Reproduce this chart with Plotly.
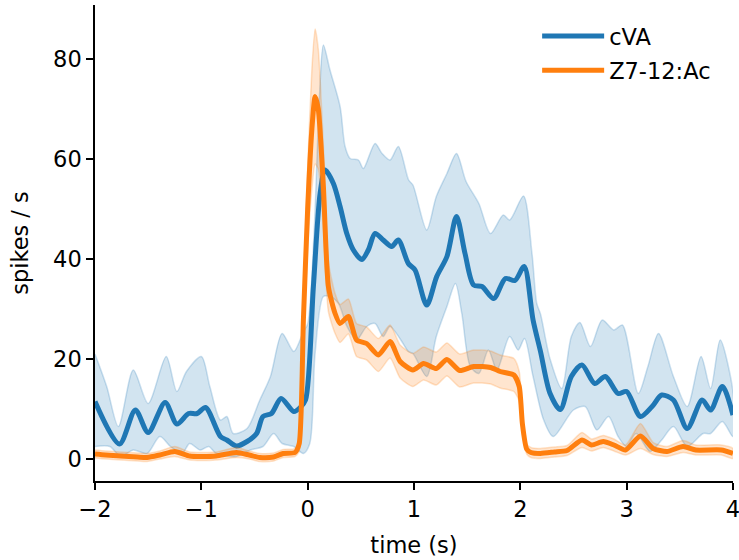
import plotly.graph_objects as go

# ---- data ----
t_blue = [-2.0, -1.77, -1.62, -1.50, -1.34, -1.23, -1.12, -1.04, -0.96, -0.82, -0.76, -0.67, -0.57, -0.48,
          -0.42, -0.34, -0.25, -0.13, -0.07, -0.02, 0.054, 0.117, 0.164, 0.242, 0.305, 0.368, 0.43, 0.51,
          0.57, 0.634, 0.71, 0.79, 0.853, 0.947, 1.01, 1.12, 1.214, 1.31, 1.40, 1.48, 1.56, 1.64, 1.75,
          1.86, 1.95, 2.036, 2.12, 2.19, 2.28, 2.376, 2.48, 2.58, 2.70, 2.80, 2.92, 3.0, 3.13, 3.24, 3.33,
          3.44, 3.57, 3.71, 3.79, 3.90, 4.0]
blue_mean = [11.5, 3.0, 9.8, 5.3, 11.3, 7.0, 9.1, 9.1, 10.3, 4.5, 3.8, 2.6, 3.5, 5.1,
             8.5, 9.1, 12.1, 9.5, 10.3, 11.8, 34.5, 53.1, 57.8, 55.1, 50.5, 45.1, 41.8, 39.9,
             41.8, 45.1, 43.8, 42.5, 43.8, 39.1, 37.8, 30.8, 36.5, 40.5, 48.5, 41.1, 34.8, 34.5, 32.1,
             36.1, 35.7, 38.5, 27.8, 21.5, 13.1, 9.9, 16.5, 18.8, 15.1, 16.5, 13.1, 13.5, 8.5, 10.5, 12.8,
             11.8, 6.1, 11.8, 9.8, 14.5, 8.8]

t_blue_up = [-2.0, -1.89, -1.78, -1.64, -1.50, -1.33, -1.23, -1.14, -1.0, -0.92, -0.82, -0.76, -0.70, -0.57,
             -0.45, -0.35, -0.24, -0.13, -0.04, 0.0, 0.06, 0.11, 0.148, 0.21, 0.305, 0.352, 0.40, 0.477,
             0.524, 0.634, 0.70, 0.775, 0.853, 0.95, 0.99, 1.12, 1.21, 1.31, 1.40, 1.49, 1.61, 1.72,
             1.84, 1.90, 2.03, 2.11, 2.155, 2.19, 2.28, 2.39, 2.48, 2.56, 2.66, 2.77, 2.88, 2.96, 3.11,
             3.20, 3.30, 3.44, 3.57, 3.70, 3.79, 3.88, 4.0]
blue_upper = [21.0, 14.5, 6.5, 17.8, 11.1, 20.5, 13.5, 17.5, 20.5, 14.5, 7.8, 8.5, 5.1, 6.1,
              11.8, 16.5, 25.1, 21.5, 25.5, 27.0, 45.0, 72.0, 82.8, 77.8, 70.5, 62.5, 60.1, 59.8,
              58.1, 63.1, 61.1, 59.8, 62.5, 55.8, 54.8, 45.8, 52.5, 57.1, 61.1, 55.5, 51.1, 45.1,
              48.8, 47.8, 52.6, 41.1, 31.1, 29.0, 20.0, 14.1, 24.5, 27.3, 22.5, 27.8, 25.8, 26.8, 13.1,
              18.5, 25.1, 16.5, 10.5, 20.5, 14.1, 23.8, 13.5]

t_blue_lo = [-2.0, -1.86, -1.76, -1.64, -1.51, -1.39, -1.29, -1.18, -1.11, -1.01, -0.93, -0.86, -0.67, -0.54,
             -0.42, -0.32, -0.24, -0.13, -0.04, 0.02, 0.07, 0.148, 0.21, 0.29, 0.37, 0.46, 0.555, 0.634,
             0.71, 0.775, 0.87, 0.947, 0.99, 1.12, 1.21, 1.31, 1.39, 1.45, 1.53, 1.61, 1.70, 1.78, 1.90,
             1.98, 2.04, 2.12, 2.22, 2.31, 2.50, 2.61, 2.72, 2.83, 2.92, 3.0, 3.09, 3.22, 3.33, 3.44,
             3.57, 3.72, 3.79, 3.90, 4.0]
blue_lower = [2.5, 2.5, 0.5, 1.8, 1.1, 4.5, 2.5, 1.1, 3.1, 1.8, 2.5, 1.1, 0.5, 1.8,
              2.5, 5.1, 3.1, 2.5, 1.1, 3.1, 21.1, 32.5, 32.5, 31.1, 26.5, 23.8, 26.5, 27.1,
              24.5, 26.5, 24.0, 21.5, 21.1, 16.5, 24.5, 30.5, 35.1, 29.1, 18.5, 17.1, 21.8, 17.8, 24.5,
              21.8, 24.1, 16.5, 7.8, 4.5, 9.8, 10.5, 5.8, 8.5, 4.5, 2.5, 5.1, 1.5, 3.8, 6.5,
              2.5, 5.1, 5.1, 7.5, 4.5]

t_orange = [-2.0, -1.9, -1.76, -1.6, -1.51, -1.39, -1.25, -1.11, -1.0, -0.86, -0.67, -0.55, -0.45, -0.32,
            -0.23, -0.12, -0.08, -0.04, 0.0, 0.04, 0.07, 0.10, 0.148, 0.195, 0.258, 0.305, 0.383, 0.46,
            0.555, 0.665, 0.775, 0.87, 0.99, 1.09, 1.21, 1.31, 1.43, 1.56, 1.72, 1.81, 1.94, 1.99, 2.02,
            2.06, 2.1, 2.19, 2.32, 2.44, 2.58, 2.67, 2.78, 2.88, 2.99, 3.13, 3.25, 3.38, 3.53, 3.65,
            3.89, 4.0]
orange_mean = [1.0, 0.8, 0.6, 0.4, 0.3, 0.8, 1.5, 0.6, 0.5, 0.6, 1.3, 0.8, 0.3, 0.4,
               1.1, 1.3, 3.0, 27.8, 50.0, 66.0, 72.5, 70.0, 54.5, 34.5, 29.1, 27.1, 28.5, 23.8,
               23.1, 20.8, 23.5, 19.5, 17.8, 19.1, 18.1, 19.9, 17.7, 18.5, 18.3, 17.5, 16.8, 14.5, 7.0,
               2.0, 1.3, 1.1, 1.4, 1.7, 3.8, 2.8, 3.5, 2.8, 1.8, 4.6, 2.1, 1.5, 2.5, 1.8,
               1.8, 1.1]
orange_sem = [0.8, 0.8, 0.8, 0.8, 0.8, 0.8, 1.0, 0.8, 0.8, 0.8, 1.0, 0.8, 0.8, 0.8,
              0.8, 0.8, 1.5, 4.0, 8.0, 12.0, 13.5, 12.0, 8.0, 5.0, 4.0, 3.8, 3.5, 3.3,
              3.3, 3.3, 3.3, 3.3, 3.3, 3.3, 3.3, 3.3, 3.3, 3.3, 3.3, 3.3, 3.3, 3.0, 2.0,
              1.0, 1.0, 1.0, 1.0, 1.0, 1.5, 1.2, 1.2, 1.2, 1.0, 2.5, 1.2, 1.0, 1.2, 1.0,
              1.0, 1.0]

x_ticks = [-2, -1, 0, 1, 2, 3, 4]
x_ticktext = ["\u22122", "\u22121", "0", "1", "2", "3", "4"]
y_ticks = [0, 20, 40, 60, 80]

BLUE = "#1f77b4"
ORANGE = "#ff7f0e"
FS = 22.5

orange_upper = [m + s for m, s in zip(orange_mean, orange_sem)]
orange_lower = [m - s for m, s in zip(orange_mean, orange_sem)]

fig = go.Figure()

fig.add_trace(go.Scatter(
    x=t_blue_up + t_blue_lo[::-1], y=blue_upper + blue_lower[::-1],
    fill="toself", fillcolor="rgba(31,119,180,0.2)",
    line=dict(color="rgba(31,119,180,0.22)", width=1.5, shape="spline", smoothing=0.8),
    mode="lines", showlegend=False, hoverinfo="skip"))
fig.add_trace(go.Scatter(
    x=t_blue, y=blue_mean, mode="lines", name="cVA", legendgroup="a",
    line=dict(color=BLUE, width=5, shape="spline", smoothing=0.8)))
fig.add_trace(go.Scatter(
    x=t_orange + t_orange[::-1], y=orange_upper + orange_lower[::-1],
    fill="toself", fillcolor="rgba(255,127,14,0.2)",
    line=dict(color="rgba(255,127,14,0.22)", width=1.5, shape="spline", smoothing=0.6),
    mode="lines", showlegend=False, hoverinfo="skip"))
fig.add_trace(go.Scatter(
    x=t_orange, y=orange_mean, mode="lines", name="Z7-12:Ac", legendgroup="b",
    line=dict(color=ORANGE, width=5, shape="spline", smoothing=0.6)))

font = dict(family="DejaVu Sans", size=FS, color="black")
fig.update_layout(
    width=739, height=560,
    margin=dict(l=95, r=6, t=5, b=79, autoexpand=False),
    paper_bgcolor="white", plot_bgcolor="white",
    font=font,
    legend=dict(x=0.693, y=0.979, xanchor="left", yanchor="top",
                bgcolor="rgba(0,0,0,0)", font=dict(family="DejaVu Sans", size=FS),
                itemwidth=62, tracegroupgap=2),
    xaxis=dict(range=[-2, 4.0005], tickvals=x_ticks, ticktext=x_ticktext,
               showgrid=False, zeroline=False, showline=True, linecolor="black", linewidth=1.5,
               ticks="outside", ticklen=7, tickwidth=1.5, tickcolor="black",
               ticklabeloverflow="allow",
               tickfont=dict(family="DejaVu Sans", size=FS), automargin=False,
               title=dict(text="time (s)", font=dict(family="DejaVu Sans", size=FS), standoff=16)),
    yaxis=dict(range=[-4.4, 90.8], tickvals=y_ticks,
               showgrid=False, zeroline=False, showline=True, linecolor="black", linewidth=1.5,
               ticks="outside", ticklen=7, tickwidth=1.5, tickcolor="black",
               tickfont=dict(family="DejaVu Sans", size=FS), automargin=False,
               title=dict(text="spikes / s", font=dict(family="DejaVu Sans", size=FS), standoff=18)),
)

fig.write_html("out.html", config={"displayModeBar": False},
               post_script="document.body.style.margin='0';document.body.style.padding='0';")
